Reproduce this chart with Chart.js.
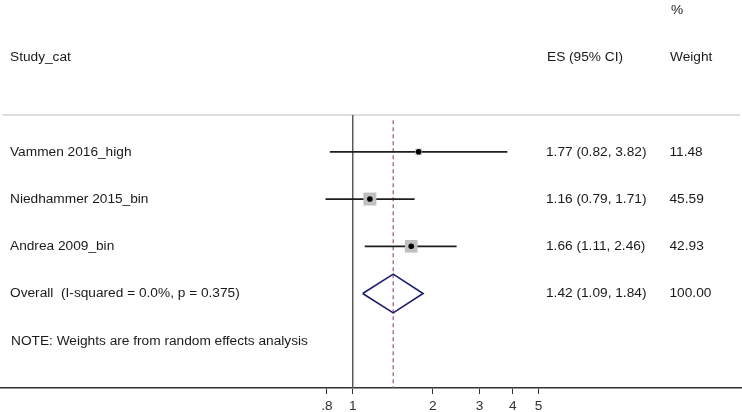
<!DOCTYPE html>
<html>
<head>
<meta charset="utf-8">
<script src="https://cdn.jsdelivr.net/npm/chart.js@4.4.1/dist/chart.umd.min.js"></script>
<style>
  html, body { margin: 0; padding: 0; background: #fff; }
  #wrap { width: 742px; height: 412px; position: relative; }
</style>
</head>
<body>
<div id="wrap"><canvas id="forest"></canvas></div>
<script>
// study data
var studies = ['Vammen 2016_high', 'Niedhammer 2015_bin', 'Andrea 2009_bin'];
var es = [1.77, 1.16, 1.66];
var ciLow = [0.82, 0.79, 1.11];
var ciHigh = [3.82, 1.71, 2.46];
var weights = [11.48, 45.59, 42.93];

// pooled estimate
var overallLabel = 'Overall  (I-squared = 0.0%, p = 0.375)';
var overallEs = 1.42;
var overallLow = 1.09;
var overallHigh = 1.84;
var overallWeight = 100.00;

var noteText = 'NOTE: Weights are from random effects analysis';

// axis ticks
var tickValues = [0.8, 1, 2, 3, 4, 5];
var tickLabels = ['.8', '1', '2', '3', '4', '5'];

var FAMILY = '"Liberation Sans", Arial, sans-serif';
var FONT = '13.7px ' + FAMILY;
var TXT = '#1a1a1a';

function fmt(v) { return v.toFixed(2); }

// row index for each study (1..n), overall row after, note after that
var rows = studies.map(function (s, i) { return i + 1; });
var overallRow = studies.length + 1;
var noteRow = studies.length + 2;

var datasets = [];

// point estimates (on top)
datasets.push({
    type: 'scatter',
    data: es.map(function (v, i) { return { x: v, y: rows[i] }; }),
    pointStyle: 'circle',
    pointRadius: 2.8,
    pointBackgroundColor: '#000',
    pointBorderWidth: 0,
    order: 0,
    clip: false
});

// weight boxes
datasets.push({
    type: 'scatter',
    data: es.map(function (v, i) { return { x: v, y: rows[i] }; }),
    pointStyle: 'rect',
    pointRadius: weights.map(function (w) { return 1.36 * Math.sqrt(w); }),
    pointBackgroundColor: '#c0c0c0',
    pointBorderWidth: 0,
    order: 1,
    clip: false
});

// CI lines
studies.forEach(function (s, i) {
    datasets.push({
        type: 'scatter',
        showLine: true,
        data: [{ x: ciLow[i], y: rows[i] }, { x: ciHigh[i], y: rows[i] }],
        borderColor: '#1e1e1e',
        borderWidth: 1.8,
        pointRadius: 0,
        order: 2,
        clip: false
    });
});

// overall diamond
datasets.push({
    type: 'scatter',
    showLine: true,
    data: [
        { x: overallLow, y: overallRow },
        { x: overallEs, y: overallRow - 0.41 },
        { x: overallHigh, y: overallRow },
        { x: overallEs, y: overallRow + 0.41 },
        { x: overallLow, y: overallRow }
    ],
    borderColor: '#1c1c6b',
    borderWidth: 1.6,
    pointRadius: 0,
    tension: 0,
    order: 2,
    clip: false
});

// null line at 1
datasets.push({
    type: 'scatter',
    showLine: true,
    data: [{ x: 1, y: 0.22 }, { x: 1, y: 6 }],
    borderColor: '#5a5a5a',
    borderWidth: 1.5,
    pointRadius: 0,
    order: 3,
    clip: false
});

// dashed line at pooled estimate
datasets.push({
    type: 'scatter',
    showLine: true,
    data: [{ x: overallEs, y: 0.33 }, { x: overallEs, y: 6 }],
    borderColor: '#b0506c',
    borderWidth: 1.2,
    borderDash: [4, 3],
    pointRadius: 0,
    order: 3,
    clip: false
});

// header separator
datasets.push({
    type: 'scatter',
    showLine: true,
    data: [{ x: 0.0481, y: 0.22 }, { x: 28.7, y: 0.22 }],
    borderColor: '#d2d2d2',
    borderWidth: 1.6,
    pointRadius: 0,
    order: 4,
    clip: false
});

// text columns
var textPlugin = {
    id: 'forestText',
    afterDraw: function (chart) {
        var ctx = chart.ctx;
        var y = chart.scales.y;
        ctx.save();
        ctx.font = FONT;
        ctx.fillStyle = TXT;
        ctx.textBaseline = 'middle';
        ctx.textAlign = 'left';

        ctx.fillText('%', 671, y.getPixelForValue(-2));
        ctx.fillText('Study_cat', 10, y.getPixelForValue(-1));
        ctx.fillText('ES (95% CI)', 547, y.getPixelForValue(-1));
        ctx.fillText('Weight', 670, y.getPixelForValue(-1));

        studies.forEach(function (s, i) {
            var py = y.getPixelForValue(rows[i]);
            ctx.fillText(s, 10, py);
            ctx.fillText(fmt(es[i]) + ' (' + fmt(ciLow[i]) + ', ' + fmt(ciHigh[i]) + ')', 546, py);
            ctx.fillText(fmt(weights[i]), 669.5, py);
        });

        var oy = y.getPixelForValue(overallRow);
        ctx.fillText(overallLabel, 10, oy);
        ctx.fillText(fmt(overallEs) + ' (' + fmt(overallLow) + ', ' + fmt(overallHigh) + ')', 546, oy);
        ctx.fillText(fmt(overallWeight), 669.5, oy);

        ctx.fillText(noteText, 11, y.getPixelForValue(noteRow));
        ctx.restore();
    }
};

new Chart(document.getElementById('forest').getContext('2d'), {
    type: 'scatter',
    data: { datasets: datasets },
    options: {
        responsive: true,
        maintainAspectRatio: false,
        animation: false,
        layout: { padding: 0, autoPadding: false },
        plugins: { legend: { display: false }, tooltip: { enabled: false } },
        scales: {
            x: {
                type: 'logarithmic',
                position: 'bottom',
                bounds: 'data',
                min: 0.04703,
                max: 29.18,
                afterBuildTicks: function (scale) {
                    scale.ticks = tickValues.map(function (v) { return { value: v }; });
                },
                afterFit: function (scale) { scale.height = 24; },
                grid: { drawOnChartArea: false, drawTicks: true, tickLength: 6, color: '#333' },
                border: { display: true, color: '#333', width: 1.5 },
                ticks: {
                    autoSkip: false,
                    maxRotation: 0,
                    padding: 4,
                    color: '#333',
                    font: { family: FAMILY, size: 13.7 },
                    callback: function (value) {
                        var idx = tickValues.indexOf(value);
                        return idx >= 0 ? tickLabels[idx] : '';
                    }
                }
            },
            y: {
                display: false,
                reverse: true,
                min: -2.214,
                max: 6
            }
        }
    },
    plugins: [textPlugin]
});
</script>
</body>
</html>
